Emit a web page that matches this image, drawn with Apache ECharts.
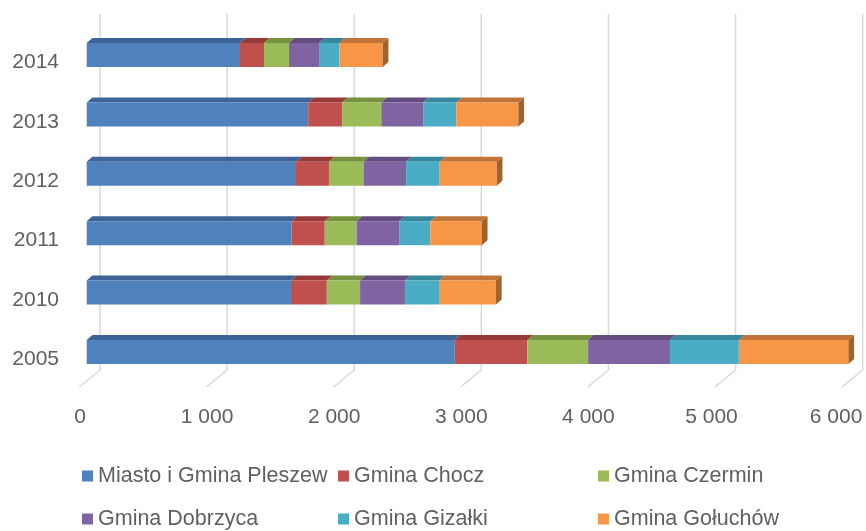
<!DOCTYPE html>
<html>
<head>
<meta charset="utf-8">
<script src="https://cdn.jsdelivr.net/npm/echarts@6/dist/echarts.min.js"></script>
<style>
html,body{margin:0;padding:0;background:#fff;}
#chart{width:866px;height:531px;}
</style>
</head>
<body>
<div id="chart"></div>
<script>
// ---- data ----
const years = ['2005', '2010', '2011', '2012', '2013', '2014'];
const seriesNames = ['Miasto i Gmina Pleszew', 'Gmina Chocz', 'Gmina Czermin', 'Gmina Dobrzyca', 'Gmina Gizałki', 'Gmina Gołuchów'];
const pleszew  = [2896, 1607, 1611, 1647, 1743, 1206];
const chocz    = [571, 282, 262, 259, 267, 189];
const czermin  = [478, 262, 250, 272, 308, 197];
const dobrzyca = [644, 353, 335, 335, 329, 236];
const gizalki  = [542, 268, 245, 264, 261, 160];
const goluchow = [862, 448, 406, 449, 488, 341];
const xTicks = [0, 1000, 2000, 3000, 4000, 5000, 6000];

// ---- styles ----
const colors    = ['#4F81BD', '#C0504D', '#9BBB59', '#8064A2', '#4BACC6', '#F79646'];
const topColors = ['#3D6496', '#953A38', '#77923F', '#634D80', '#36879D', '#C0743A'];
const sideColor = '#A3622A';
const FONT = 'Liberation Sans';
const TXT = '#606060';

const allSeries = [pleszew, chocz, czermin, dobrzyca, gizalki, goluchow];

// build stacked ranges from the named arrays
const cum = years.map(() => 0);
const stackedData = allSeries.map(arr => arr.map((v, i) => {
  const s = cum[i];
  cum[i] += v;
  return [s, cum[i], i];
}));

function barRender(si) {
  return function (params, api) {
    const s = api.value(0), e = api.value(1), c = api.value(2);
    const a = api.coord([s, c]);
    const b = api.coord([e, c]);
    const H = 24, dx = 5.7, dy = 5;
    const y0 = a[1] - H / 2;
    const children = [
      { type: 'polygon', shape: { points: [[a[0], y0], [b[0], y0], [b[0] + dx, y0 - dy], [a[0] + dx, y0 - dy]] },
        style: { fill: topColors[si] } },
      { type: 'rect', shape: { x: a[0], y: y0, width: b[0] - a[0], height: H },
        style: { fill: colors[si] } }
    ];
    if (si === allSeries.length - 1) {
      children.push({ type: 'polygon', shape: { points: [[b[0], y0], [b[0] + dx, y0 - dy], [b[0] + dx, y0 + H - dy], [b[0], y0 + H]] },
        style: { fill: sideColor } });
    }
    return { type: 'group', children };
  };
}

function gridRender(params, api) {
  const x = api.coord([api.value(0), 0])[0];
  return {
    type: 'polyline',
    shape: { points: [[x + 13.3, 14], [x + 13.3, 370], [x - 7.3, 387]] },
    style: { stroke: '#D9D9D9', lineWidth: 1.5, fill: null }
  };
}

const series = [{
  type: 'custom', name: '_grid', xAxisIndex: 0, yAxisIndex: 0, z: 1, silent: true,
  renderItem: gridRender, data: xTicks.map(v => [v, 0]), encode: { x: 0, y: 1 }
}];
allSeries.forEach((arr, si) => {
  series.push({
    type: 'custom', name: seriesNames[si], xAxisIndex: 0, yAxisIndex: 0, z: 5,
    itemStyle: { color: colors[si] },
    renderItem: barRender(si),
    data: stackedData[si],
    encode: { x: [0, 1], y: 2 }
  });
});

function legendCfg(left, names) {
  return {
    orient: 'vertical', left: left, top: 464, padding: 0,
    itemWidth: 11, itemHeight: 11, itemGap: 19, icon: 'rect',
    data: names,
    textStyle: { fontFamily: FONT, fontSize: 21.5, lineHeight: 24, color: TXT }
  };
}

const option = {
  backgroundColor: '#fff',
  animation: false,
  grid: [
    { left: 86.7, width: 762.6, top: 25.3, height: 356.4 },
    { left: 80, width: 762.6, top: 32.8, height: 356.4 }
  ],
  xAxis: [
    { gridIndex: 0, type: 'value', min: 0, max: 6000, interval: 1000, show: false },
    { gridIndex: 1, type: 'value', min: 0, max: 6000, interval: 1000,
      axisLine: { show: false }, axisTick: { show: false }, splitLine: { show: false },
      axisLabel: {
        margin: 18, color: TXT, fontFamily: FONT, fontSize: 21,
        formatter: function (v) {
          const s = String(v).replace(/\B(?=(\d{3})+(?!\d))/g, ' ');
          if (v === 6000) return '{r|' + s + '}';
          if (v === 5000) return '{q|' + s + '}';
          return s;
        },
        rich: {
          r: { fontFamily: FONT, fontSize: 21, color: TXT, padding: [0, 13, 0, 0] },
          q: { fontFamily: FONT, fontSize: 21, color: TXT, padding: [0, 8, 0, 0] }
        }
      } }
  ],
  yAxis: [
    { gridIndex: 0, type: 'category', data: years, show: false },
    { gridIndex: 1, type: 'category', data: years,
      axisLine: { show: false }, axisTick: { show: false }, splitLine: { show: false },
      axisLabel: { margin: 21, color: TXT, fontFamily: FONT, fontSize: 21 } }
  ],
  legend: [
    legendCfg(82, [seriesNames[0], seriesNames[3]]),
    legendCfg(338, [seriesNames[1], seriesNames[4]]),
    legendCfg(598, [seriesNames[2], seriesNames[5]])
  ],
  series: series
};

const chart = echarts.init(document.getElementById('chart'));
chart.setOption(option);
</script>
</body>
</html>
